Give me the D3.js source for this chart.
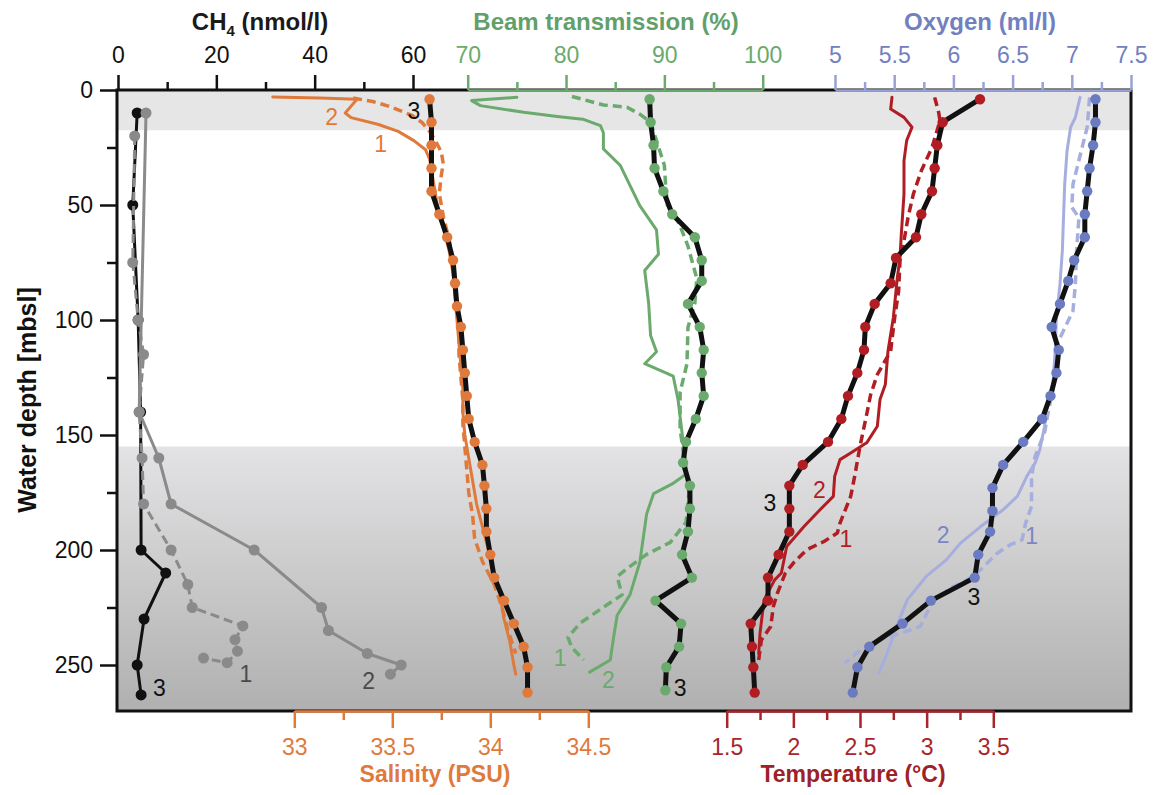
<!DOCTYPE html>
<html>
<head>
<meta charset="utf-8">
<script src="https://cdn.jsdelivr.net/npm/d3@7"></script>
<style>
  body { margin: 0; background: #fff; }
  svg { display: block; font-family: "Liberation Sans", Arial, sans-serif; }
</style>
</head>
<body>
<svg id="chart" width="1157" height="795"></svg>
<script>
// ---------- data (depth in m, values in axis units) ----------
// CH4 (nmol/l): 1 = dashed grey, 2 = solid grey, 3 = black
const ch4Depth1 = [20, 75, 100, 115, 140, 160, 180, 200, 215, 225, 233, 239, 244, 249, 247];
const ch4Conc1  = [3.4, 3.0, 4.1, 5.2, 4.3, 4.9, 5.2, 10.8, 14.2, 15.1, 25.4, 23.8, 24.3, 22.2, 17.4];
const ch4Depth2 = [10, 140, 160, 180, 200, 225, 235, 245, 250, 254];
const ch4Conc2  = [5.7, 4.3, 8.3, 10.8, 27.7, 41.4, 42.8, 50.7, 57.6, 55.4];
const ch4Depth3 = [10, 50, 100, 140, 200, 210, 230, 250, 263];
const ch4Conc3  = [3.9, 3.0, 4.1, 4.6, 4.7, 9.7, 5.3, 3.9, 4.7];

// Salinity (PSU)
const salDepth1 = [3.5, 5, 7, 9, 11, 14, 18, 22, 27, 32, 37, 45, 55, 65, 75, 85, 95, 105, 115, 125, 135, 145, 155, 165, 175, 185, 195, 205, 215, 225, 235, 245];
const salValue1 = [33.30, 33.40, 33.48, 33.54, 33.60, 33.65, 33.69, 33.72, 33.75, 33.76, 33.75, 33.74, 33.76, 33.79, 33.81, 33.82, 33.83, 33.84, 33.84, 33.85, 33.86, 33.86, 33.87, 33.88, 33.89, 33.91, 33.92, 33.96, 34.02, 34.06, 34.09, 34.13];
const salDepth2 = [3, 3.5, 4, 7, 10, 12, 15, 18, 22, 26, 30, 40, 50, 60, 70, 80, 90, 100, 110, 120, 130, 140, 150, 160, 170, 180, 190, 200, 210, 220, 230, 240, 250, 254];
const salValue2 = [32.89, 33.13, 33.32, 33.29, 33.26, 33.29, 33.43, 33.53, 33.61, 33.67, 33.69, 33.71, 33.73, 33.76, 33.79, 33.81, 33.82, 33.83, 33.84, 33.85, 33.86, 33.86, 33.87, 33.89, 33.91, 33.93, 33.96, 33.99, 34.02, 34.05, 34.07, 34.10, 34.12, 34.13];
const salDepth3 = [4, 14, 24, 34, 44, 54, 64, 74, 84, 94, 103, 113, 123, 133, 143, 153, 163, 172, 182, 192, 202, 212, 222, 232, 242, 251, 262];
const salValue3 = [33.69, 33.70, 33.70, 33.70, 33.70, 33.74, 33.78, 33.81, 33.82, 33.83, 33.85, 33.86, 33.87, 33.88, 33.89, 33.92, 33.96, 33.97, 33.98, 33.98, 34.00, 34.02, 34.07, 34.12, 34.17, 34.19, 34.19];

// Beam transmission (%)
const beamDepth1 = [2.8, 6.5, 7.5, 10.5, 14, 22, 32.7, 39.7, 50, 58, 67.9, 82, 92.6, 103.2, 119, 131.4, 147.3, 160, 175, 188, 196.7, 201.9, 208.1, 211.6, 219.5, 224.9, 231.9, 238, 242.5, 247.8];
const beamValue1 = [80.6, 83.8, 86.2, 87.5, 88.6, 89.2, 90.0, 90.1, 90.3, 91.5, 92.4, 93.3, 93.1, 92.4, 92.3, 91.6, 91.6, 92.0, 92.5, 92.2, 90.6, 88.2, 86.2, 85.2, 85.7, 83.8, 81.4, 80.2, 80.6, 81.8];
const beamDepth2 = [3.2, 4.6, 6.8, 9.7, 11.5, 12.7, 15.5, 18.6, 25.6, 32.7, 43.2, 50.3, 60.8, 71.4, 78.5, 92.6, 106.7, 113.8, 119, 124.4, 134.9, 152.6, 166.7, 171, 175.5, 184.3, 205.4, 219.5, 228.4, 239, 247.8, 253.1];
const beamValue2 = [75.0, 70.4, 71.3, 75.7, 79.1, 81.7, 83.5, 83.8, 83.8, 85.5, 86.7, 87.5, 89.2, 89.4, 88.0, 88.4, 88.6, 89.2, 88.0, 90.9, 91.4, 91.9, 92.3, 90.9, 88.9, 88.2, 87.5, 86.5, 85.2, 84.8, 84.5, 82.4];
const beamDepth3 = [4, 14, 24, 34, 44, 54, 64, 74, 83, 93, 103, 113, 123, 133, 143, 153, 162, 172, 182, 192, 202, 212, 222, 232, 242, 251, 261];
const beamValue3 = [88.5, 88.6, 88.9, 89.0, 89.9, 90.8, 93.1, 93.8, 93.8, 92.4, 93.6, 94.0, 93.8, 94.0, 93.2, 92.2, 91.9, 92.6, 92.6, 92.4, 91.8, 92.8, 89.1, 91.7, 91.5, 90.2, 90.1];

// Temperature (°C)
const tempDepth1 = [3.2, 9.7, 13.4, 25, 35.1, 45.3, 55.5, 65.6, 74.3, 87.4, 99, 113.5, 123.7, 132.4, 141.1, 154.9, 168, 176.7, 188.3, 192.6, 196.3, 199.9, 205.7, 210, 218.8, 224.6, 233.3, 239.1, 247.8];
const tempValue1 = [3.06, 3.09, 3.10, 3.04, 2.96, 2.90, 2.86, 2.83, 2.80, 2.79, 2.76, 2.73, 2.63, 2.58, 2.55, 2.50, 2.46, 2.43, 2.35, 2.33, 2.23, 2.10, 2.00, 1.94, 1.88, 1.85, 1.83, 1.76, 1.74];
const tempDepth2 = [3.2, 8.3, 11.9, 16.2, 22, 30.8, 45.3, 62.7, 72.9, 81.6, 99, 113.5, 128, 134.6, 146.2, 153.4, 157.8, 160.7, 168, 176.7, 182.5, 189.8, 198.5, 210, 213, 221.7, 236.2, 244.9];
const tempValue2 = [2.74, 2.73, 2.83, 2.89, 2.85, 2.83, 2.83, 2.81, 2.80, 2.78, 2.75, 2.71, 2.69, 2.65, 2.63, 2.55, 2.43, 2.35, 2.31, 2.30, 2.20, 2.08, 1.95, 1.91, 1.86, 1.78, 1.75, 1.74];
const tempDepth3 = [4, 14, 24, 34, 44, 54, 64, 73, 84, 93, 103, 113, 123, 133, 143, 153, 163, 172, 182, 192, 202, 212, 222, 232, 242, 251, 262];
const tempValue3 = [3.40, 3.12, 3.08, 3.06, 3.04, 2.96, 2.92, 2.77, 2.73, 2.61, 2.54, 2.53, 2.48, 2.41, 2.36, 2.26, 2.07, 1.97, 1.97, 1.97, 1.89, 1.81, 1.81, 1.68, 1.69, 1.70, 1.71];

// Oxygen (ml/l)
const oxyDepth1 = [3.2, 16.2, 26.4, 41, 51, 55.5, 70, 84.5, 96, 110, 125, 140.4, 149, 159.3, 168, 181, 188.3, 195.6, 197.7, 201.4, 211.5, 215.9, 221.7, 233.3, 236.2, 240.5, 244.9, 249.3];
const oxyValue1 = [7.15, 7.13, 7.08, 7.01, 7.00, 7.06, 7.04, 7.03, 7.01, 6.88, 6.86, 6.80, 6.77, 6.69, 6.66, 6.66, 6.61, 6.58, 6.48, 6.37, 6.17, 6.00, 5.83, 5.72, 5.55, 5.30, 5.18, 5.08];
const oxyDepth2 = [3.2, 11.9, 16.2, 26.4, 41, 55.5, 70, 84.5, 99, 113.5, 128, 134.6, 146.2, 156.4, 162.2, 168, 176.7, 182.5, 189.8, 197, 204.3, 211.5, 221.7, 233.3, 244.9, 253.6];
const oxyValue2 = [7.07, 7.03, 6.99, 6.96, 6.94, 6.93, 6.92, 6.90, 6.87, 6.86, 6.84, 6.80, 6.77, 6.73, 6.69, 6.62, 6.54, 6.42, 6.23, 6.06, 5.94, 5.77, 5.61, 5.52, 5.44, 5.37];
const oxyDepth3 = [4, 14, 24, 34, 44, 54, 64, 74, 83, 93, 103, 113, 123, 133, 143, 153, 163, 173, 183, 192, 202, 212, 222, 232, 242, 251, 262];
const oxyValue3 = [7.20, 7.20, 7.18, 7.15, 7.13, 7.11, 7.11, 7.02, 6.97, 6.90, 6.83, 6.89, 6.87, 6.82, 6.75, 6.59, 6.42, 6.33, 6.33, 6.31, 6.21, 6.18, 5.81, 5.57, 5.29, 5.19, 5.15];

// station labels "1", "2", "3" placed in data units
const stationNames = ["1", "2", "3"];
const ch4LabelValue  = [26.0, 51.0, 8.4];     const ch4LabelDepth  = [254, 257, 260];
const salLabelValue  = [33.44, 33.19, 33.61]; const salLabelDepth  = [23.5, 11.8, 9];
const beamLabelValue = [79.4, 84.3, 91.6];    const beamLabelDepth = [247, 256.5, 260];
const tempLabelValue = [2.395, 2.195, 1.825]; const tempLabelDepth = [195.3, 173.8, 179.6];
const oxyLabelValue  = [6.661, 5.914, 6.174]; const oxyLabelDepth  = [194.1, 193.4, 220.3];

// depth shading and ticks
const surfaceBand = [0, 17.5];
const deepBand = [155, 270];
const depthTicks = [0, 50, 100, 150, 200, 250];
const depthMinor = [25, 75, 125, 175, 225];
const ch4Ticks = [0, 20, 40, 60], ch4Minor = [10, 30, 50];
const beamTicks = [70, 80, 90, 100], beamMinor = [75, 85, 95];
const oxyTicks = [5, 5.5, 6, 6.5, 7, 7.5], oxyMinor = [5.25, 5.75, 6.25, 6.75, 7.25];
const salTicks = [33, 33.5, 34, 34.5], salMinor = [33.25, 33.75, 34.25];
const tempTicks = [1.5, 2, 2.5, 3, 3.5], tempMinor = [1.75, 2.25, 2.75, 3.25];

// ---------- layout ----------
const plotLeft = 117, plotRight = 1131, plotTop = 90, plotBottom = 711;
const FONT = '"Liberation Sans", Arial, sans-serif';

const GREY = '#8a8a8a', ORANGE = '#e07a3c', GREEN = '#6aaa6d', RED = '#b01e24';
const BLUE_DOT = '#6b7bc2', BLUE_LINE = '#a6aedf', BLUE_AXIS = '#98a2d6', BLUE_TEXT = '#7380bf';
const BLACK = '#111';

const y = d3.scaleLinear().domain([0, 270]).range([plotTop, plotBottom]);
const xCh4 = d3.scaleLinear().domain([0, 60]).range([118, 413]);
const xBeam = d3.scaleLinear().domain([70, 100]).range([467.7, 762.7]);
const xOxy = d3.scaleLinear().domain([5, 7.5]).range([835, 1131]);
const xSal = d3.scaleLinear().domain([33, 34.5]).range([294.3, 588.3]);
const xTemp = d3.scaleLinear().domain([1.5, 3.5]).range([726.7, 993.3]);

const svg = d3.select('#chart');
const defs = svg.append('defs');

// background shading
const grad = defs.append('linearGradient')
    .attr('id', 'deepGrad')
    .attr('gradientUnits', 'userSpaceOnUse')
    .attr('x1', 0).attr('x2', 0)
    .attr('y1', y(deepBand[0])).attr('y2', y(deepBand[1]));
grad.append('stop').attr('offset', 0).attr('stop-color', '#e3e3e5');
grad.append('stop').attr('offset', 1).attr('stop-color', '#b0b0b0');

svg.append('rect')
    .attr('x', plotLeft).attr('y', y(surfaceBand[0]))
    .attr('width', plotRight - plotLeft).attr('height', y(surfaceBand[1]) - y(surfaceBand[0]))
    .attr('fill', '#e6e6e6');
svg.append('rect')
    .attr('x', plotLeft).attr('y', y(deepBand[0]))
    .attr('width', plotRight - plotLeft).attr('height', y(deepBand[1]) - y(deepBand[0]))
    .attr('fill', 'url(#deepGrad)');

const plot = svg.append('g');
const line = d3.line();

function profile(depths, vals, x, color, width, dashed) {
    const pts = depths.map((d, i) => [x(vals[i]), y(d)]);
    plot.append('path')
        .attr('d', line(pts))
        .attr('fill', 'none')
        .attr('stroke', color)
        .attr('stroke-width', width)
        .attr('stroke-linejoin', 'round')
        .attr('stroke-linecap', dashed ? 'butt' : 'round')
        .attr('stroke-dasharray', dashed ? '9,5' : null);
}

function dots(depths, vals, x, color, r) {
    plot.append('g').selectAll('circle')
        .data(depths)
        .join('circle')
        .attr('cx', (d, i) => x(vals[i]))
        .attr('cy', d => y(d))
        .attr('r', r)
        .attr('fill', color);
}

// CH4
profile(ch4Depth3, ch4Conc3, xCh4, BLACK, 3, false);
dots(ch4Depth3, ch4Conc3, xCh4, BLACK, 5.5);
profile(ch4Depth1, ch4Conc1, xCh4, GREY, 3, true);
dots(ch4Depth1, ch4Conc1, xCh4, GREY, 5.5);
profile(ch4Depth2, ch4Conc2, xCh4, GREY, 3, false);
dots(ch4Depth2, ch4Conc2, xCh4, GREY, 5.5);

// salinity
profile(salDepth1, salValue1, xSal, ORANGE, 3.5, true);
profile(salDepth2, salValue2, xSal, ORANGE, 3, false);
profile(salDepth3, salValue3, xSal, BLACK, 5, false);
dots(salDepth3, salValue3, xSal, ORANGE, 5.2);

// beam transmission
profile(beamDepth1, beamValue1, xBeam, GREEN, 3.5, true);
profile(beamDepth2, beamValue2, xBeam, GREEN, 3, false);
profile(beamDepth3, beamValue3, xBeam, BLACK, 5, false);
dots(beamDepth3, beamValue3, xBeam, GREEN, 5.2);

// temperature
profile(tempDepth1, tempValue1, xTemp, RED, 3.5, true);
profile(tempDepth2, tempValue2, xTemp, RED, 3, false);
profile(tempDepth3, tempValue3, xTemp, BLACK, 5, false);
dots(tempDepth3, tempValue3, xTemp, RED, 5.2);

// oxygen
profile(oxyDepth1, oxyValue1, xOxy, BLUE_LINE, 3.5, true);
profile(oxyDepth2, oxyValue2, xOxy, BLUE_LINE, 3, false);
profile(oxyDepth3, oxyValue3, xOxy, BLACK, 5, false);
dots(oxyDepth3, oxyValue3, xOxy, BLUE_DOT, 5.2);

// frame
svg.append('rect')
    .attr('x', plotLeft).attr('y', plotTop)
    .attr('width', plotRight - plotLeft).attr('height', plotBottom - plotTop)
    .attr('fill', 'none').attr('stroke', BLACK).attr('stroke-width', 3);

// axes
function styleAxis(g, lineColor, textColor) {
    g.attr('font-family', null).attr('font-size', null);
    g.select('.domain').attr('stroke', lineColor).attr('stroke-width', 2.5);
    g.selectAll('.tick line').attr('stroke', lineColor).attr('stroke-width', 2.5);
    g.selectAll('.tick text')
        .attr('fill', textColor)
        .attr('font-family', FONT)
        .attr('font-size', 23);
}

function axisPair(axisFn, scale, majors, minors, transform, lineColor, textColor, major, minor, pad, showDomain) {
    const gMin = svg.append('g').attr('transform', transform)
        .call(axisFn(scale).tickValues(minors).tickSize(minor).tickSizeOuter(0).tickFormat(''));
    gMin.select('.domain').remove();
    styleAxis(gMin, lineColor, textColor);
    const gMaj = svg.append('g').attr('transform', transform)
        .call(axisFn(scale).tickValues(majors).tickSize(major).tickSizeOuter(0)
            .tickPadding(pad).tickFormat(d => String(d)));
    if (!showDomain) gMaj.select('.domain').remove();
    styleAxis(gMaj, lineColor, textColor);
    return gMaj;
}

axisPair(d3.axisTop, xCh4, ch4Ticks, ch4Minor, `translate(0,${plotTop})`, BLACK, BLACK, 15, 8, 12, false);
axisPair(d3.axisTop, xBeam, beamTicks, beamMinor, `translate(0,${plotTop})`, GREEN, GREEN, 15, 8, 12, true);
axisPair(d3.axisTop, xOxy, oxyTicks, oxyMinor, `translate(0,${plotTop})`, BLUE_AXIS, BLUE_TEXT, 15, 8, 12, true);
axisPair(d3.axisBottom, xSal, salTicks, salMinor, `translate(0,${plotBottom})`, ORANGE, ORANGE, 17, 9, 11, true);
axisPair(d3.axisBottom, xTemp, tempTicks, tempMinor, `translate(0,${plotBottom})`, '#a8252b', '#a8252b', 17, 9, 11, true);
axisPair(d3.axisLeft, y, depthTicks, depthMinor, `translate(${plotLeft},0)`, BLACK, BLACK, 17, 10, 7, false);

// axis titles
function title(x, yPos, color, parts, size, rotate) {
    const t = svg.append('text')
        .attr('x', x).attr('y', yPos)
        .attr('text-anchor', 'middle')
        .attr('font-family', FONT)
        .attr('font-weight', 'bold')
        .attr('font-size', size)
        .attr('fill', color);
    if (rotate) t.attr('transform', `rotate(-90,${x},${yPos})`);
    parts.forEach(p => {
        const s = t.append('tspan').text(p.text);
        if (p.sub) s.attr('font-size', 15).attr('dy', 6);
        if (p.after) s.attr('dy', -6);
    });
}

title(260, 30, '#1a1a1a', [{text: 'CH'}, {text: '4', sub: true}, {text: ' (nmol/l)', after: true}], 24);
title(606, 30, '#62a06a', [{text: 'Beam transmission (%)'}], 24);
title(980, 30, BLUE_TEXT, [{text: 'Oxygen (ml/l)'}], 24);
title(435, 782, ORANGE, [{text: 'Salinity (PSU)'}], 23);
title(853, 782, '#9c2228', [{text: 'Temperature (°C)'}], 23);
title(36, 400, BLACK, [{text: 'Water depth [mbsl]'}], 25, true);

// station labels
function stationLabels(vals, depths, x, color) {
    svg.append('g').selectAll('text')
        .data(stationNames)
        .join('text')
        .attr('x', (d, i) => x(vals[i]))
        .attr('y', (d, i) => y(depths[i]))
        .attr('text-anchor', 'middle')
        .attr('dominant-baseline', 'central')
        .attr('font-family', FONT)
        .attr('font-size', 23)
        .attr('fill', (d, i) => i === 2 ? BLACK : color)
        .text(d => d);
}

stationLabels(ch4LabelValue, ch4LabelDepth, xCh4, '#4a4a4a');
stationLabels(salLabelValue, salLabelDepth, xSal, ORANGE);
stationLabels(beamLabelValue, beamLabelDepth, xBeam, GREEN);
stationLabels(tempLabelValue, tempLabelDepth, xTemp, RED);
stationLabels(oxyLabelValue, oxyLabelDepth, xOxy, '#7b86c4');
</script>
</body>
</html>
